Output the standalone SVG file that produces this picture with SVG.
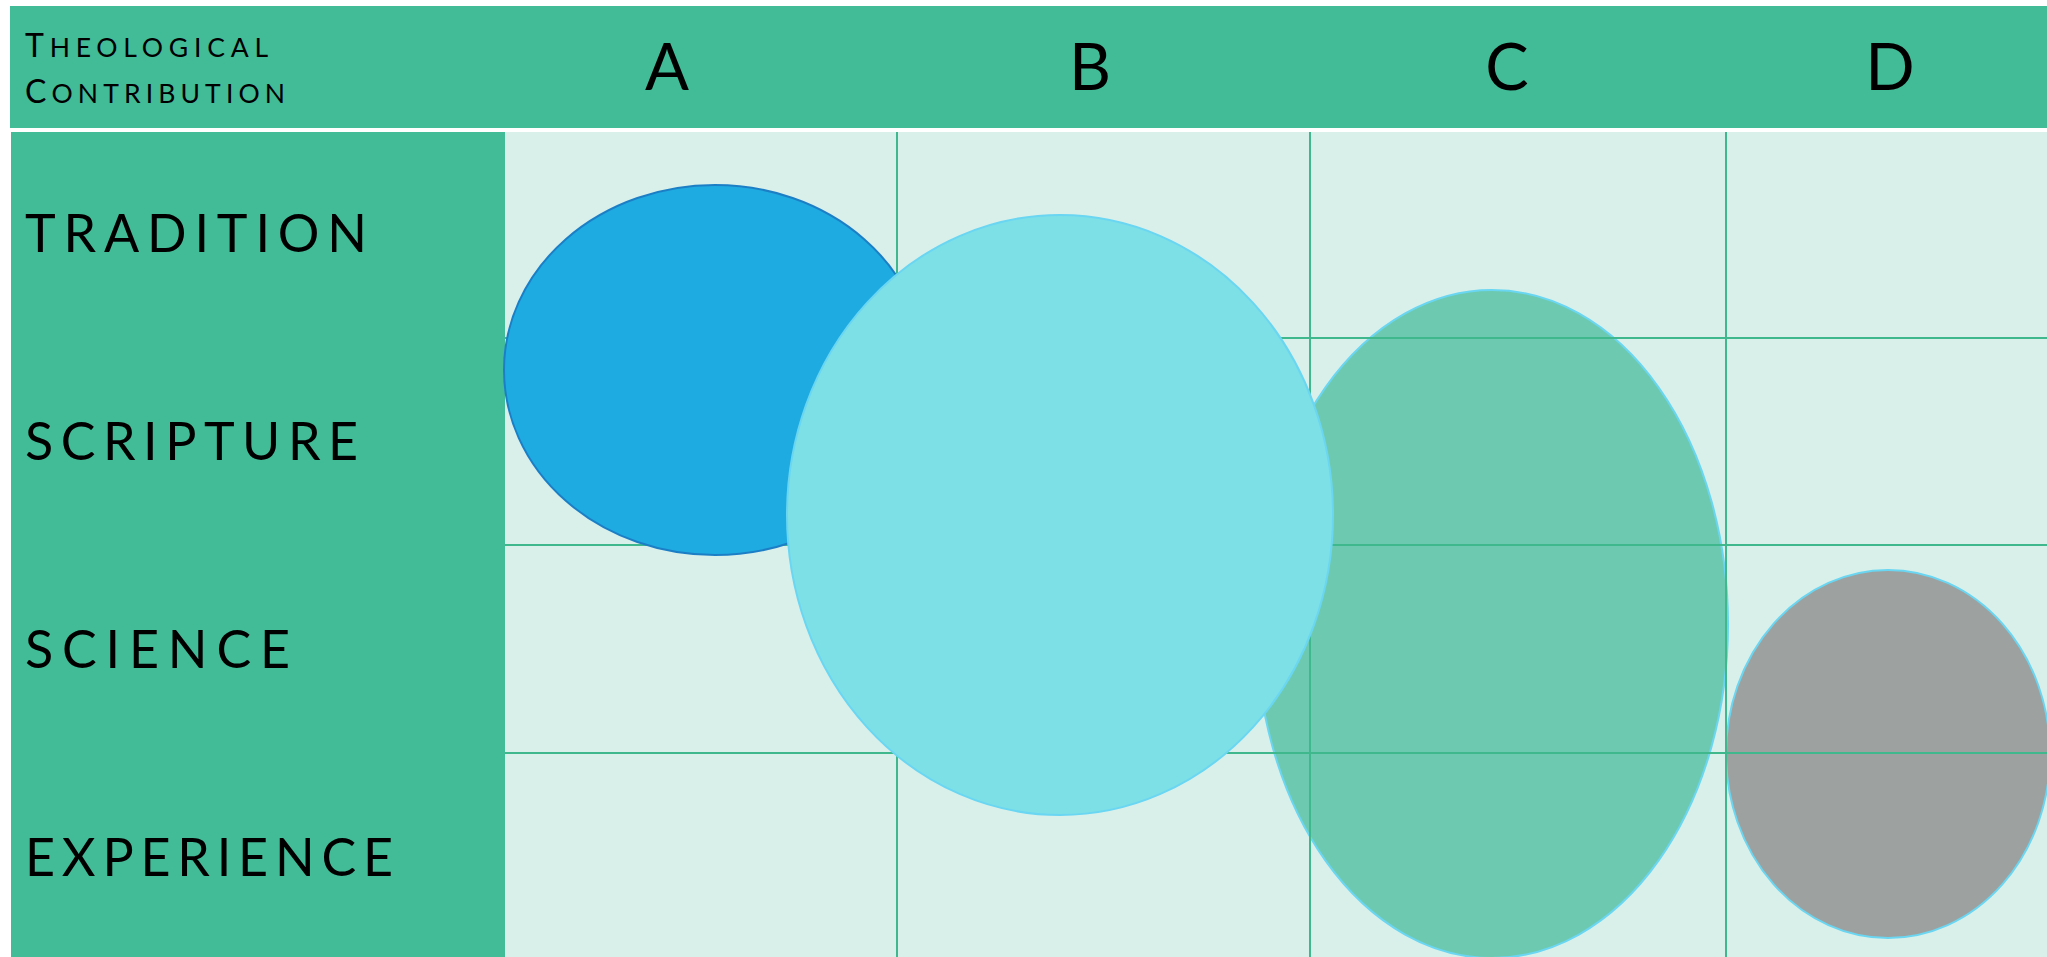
<svg xmlns="http://www.w3.org/2000/svg" width="2047" height="957" viewBox="0 0 2047 957">
<style>
.lbl{font-family:Lato,"Liberation Sans",sans-serif;fill:#000;}
.row{font-size:52px;}
.col{font-size:65px;text-anchor:middle;}
.grid{stroke:#3FB88E;stroke-width:2;fill:none;}
.soft{stroke:#6AD6F2;stroke-width:2;}
</style>
<rect x="0" y="0" width="2047" height="957" fill="#FFFFFF"/>
<g id="header">
<rect x="10" y="6" width="2037" height="122" fill="#42BB97"/>
<text class="lbl" x="25" y="57" textLength="243" lengthAdjust="spacing"><tspan font-size="32">T</tspan><tspan font-size="26.5">HEOLOGICAL</tspan></text>
<text class="lbl" x="25" y="103" textLength="260" lengthAdjust="spacing"><tspan font-size="32">C</tspan><tspan font-size="26.5">ONTRIBUTION</tspan></text>
</g>
<g id="col-A"><text class="lbl col" x="667" y="90">A</text></g>
<g id="col-B"><text class="lbl col" x="1090" y="90">B</text></g>
<g id="col-C"><text class="lbl col" x="1507" y="90">C</text></g>
<g id="col-D"><text class="lbl col" x="1890" y="90">D</text></g>
<g id="body">
<rect x="505" y="132" width="1542" height="825" fill="#D9F0EA"/>
<rect x="11" y="132" width="494" height="825" fill="#42BB97"/>
</g>
<g id="row-tradition"><text class="lbl row" x="25" y="252" textLength="342" lengthAdjust="spacing">TRADITION</text></g>
<g id="row-scripture"><text class="lbl row" x="25" y="460" textLength="333" lengthAdjust="spacing">SCRIPTURE</text></g>
<g id="row-science"><text class="lbl row" x="25" y="668" textLength="265" lengthAdjust="spacing">SCIENCE</text></g>
<g id="row-experience"><text class="lbl row" x="25" y="876" textLength="368" lengthAdjust="spacing">EXPERIENCE</text></g>
<g id="ellipse-C"><ellipse class="soft" cx="1492" cy="624" rx="236" ry="334" fill="#6DCAB0"/></g>
<g id="ellipse-D"><ellipse class="soft" cx="1888" cy="754" rx="162" ry="184" fill="#9DA2A0"/></g>
<g id="connectors">
<line class="grid" x1="897" y1="132" x2="897" y2="957"/>
<line class="grid" x1="1310" y1="132" x2="1310" y2="957"/>
<line class="grid" x1="1726" y1="132" x2="1726" y2="957"/>
<line class="grid" x1="505" y1="338" x2="2047" y2="338"/>
<line class="grid" x1="505" y1="545" x2="2047" y2="545"/>
<line class="grid" x1="505" y1="753" x2="2047" y2="753"/>
</g>
<g id="ellipse-A"><ellipse cx="715" cy="370" rx="211" ry="185" fill="#1EABE2" stroke="#1C7FC6" stroke-width="2"/></g>
<g id="ellipse-B"><ellipse class="soft" cx="1060" cy="515" rx="273" ry="300" fill="#7DE0E6"/></g>
</svg>
